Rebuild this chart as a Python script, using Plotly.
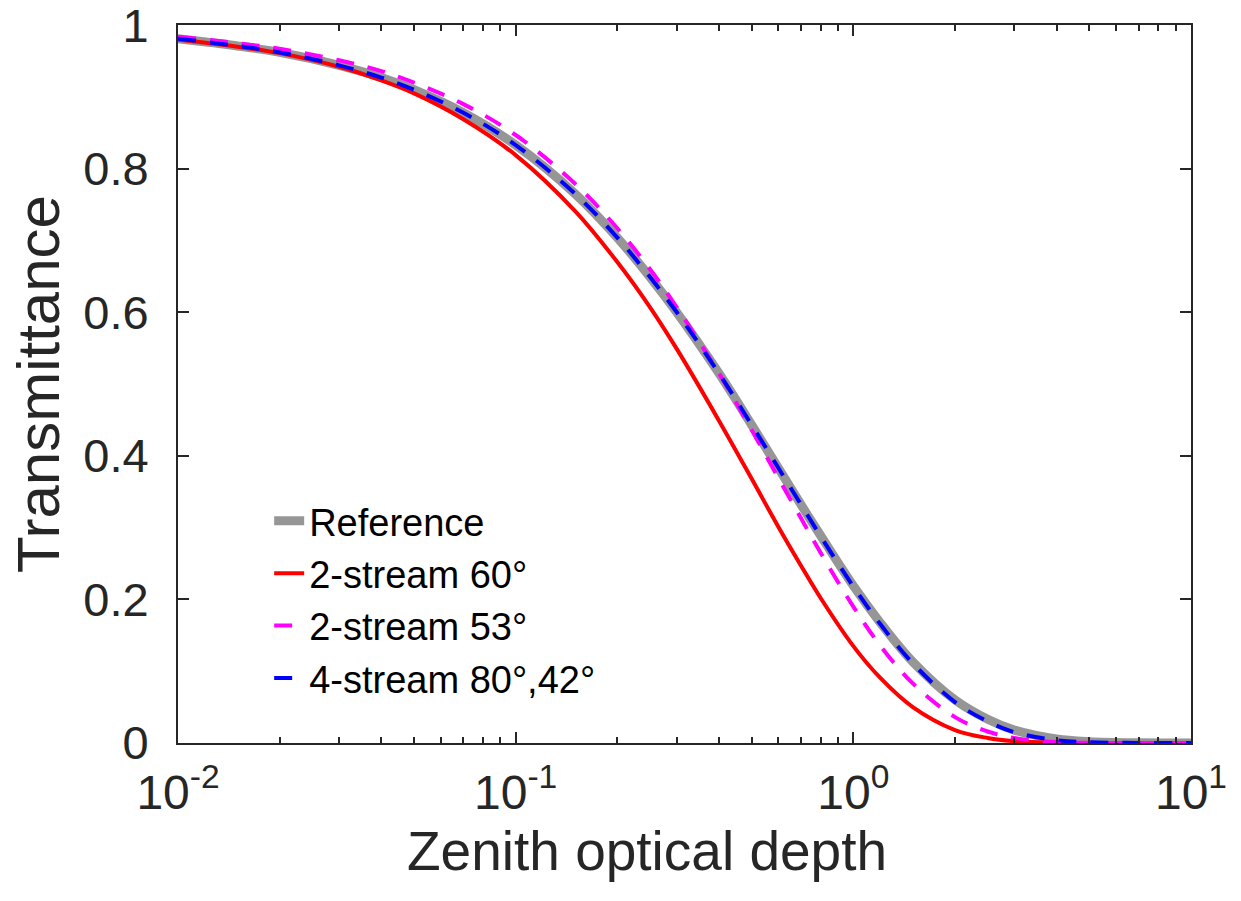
import plotly.graph_objects as go

# Zenith optical depth (x) and transmittance values
tau = [0.01, 0.015, 0.02, 0.03, 0.04, 0.05, 0.07, 0.1, 0.15, 0.2, 0.25, 0.3,
       0.4, 0.5, 0.6, 0.7, 0.8, 1.0, 1.2, 1.5, 2.0, 2.5, 3.0, 4.0, 5.0, 7.0, 10.0]

t_reference = [0.981, 0.971, 0.962, 0.944, 0.927, 0.910, 0.878, 0.833, 0.765, 0.704,
               0.649, 0.600, 0.515, 0.443, 0.383, 0.332, 0.289, 0.219, 0.168, 0.113,
               0.060, 0.033, 0.018, 0.0055, 0.0018, 0.0002, 0.0]

t_2s60 = [0.980, 0.970, 0.961, 0.942, 0.923, 0.905, 0.869, 0.819, 0.741, 0.670,
          0.607, 0.549, 0.449, 0.368, 0.301, 0.247, 0.202, 0.135, 0.091, 0.050,
          0.018, 0.007, 0.0025, 0.0003, 0.0, 0.0, 0.0]

t_2s53 = [0.984, 0.975, 0.967, 0.951, 0.936, 0.920, 0.890, 0.847, 0.779, 0.717,
          0.660, 0.607, 0.515, 0.436, 0.369, 0.313, 0.265, 0.190, 0.136, 0.083,
          0.036, 0.016, 0.007, 0.0013, 0.0003, 0.0, 0.0]

t_4s = [0.981, 0.971, 0.962, 0.944, 0.927, 0.910, 0.878, 0.833, 0.765, 0.704,
        0.649, 0.600, 0.515, 0.443, 0.383, 0.332, 0.288, 0.218, 0.166, 0.111,
        0.057, 0.030, 0.015, 0.004, 0.001, 0.0001, 0.0]

series_names = ["Reference", "2-stream 60°", "2-stream 53°", "4-stream 80°,42°"]

x_tickvals = [0.01, 0.1, 1, 10]
x_ticktext = ["10<sup>-2</sup>", "10<sup>-1</sup>", "10<sup>0</sup>", "10<sup>1</sup>"]
x_minor = [m * 10 ** e for e in (-2, -1, 0) for m in range(2, 10)]
y_tickvals = [0, 0.2, 0.4, 0.6, 0.8, 1]
y_ticktext = ["0", "0.2", "0.4", "0.6", "0.8", "1"]

FONT = "Liberation Sans, Arial, Helvetica, sans-serif"
TXT = "#262626"

fig = go.Figure()
fig.add_trace(go.Scatter(x=tau, y=t_reference, name=series_names[0], mode="lines",
                         line=dict(color="#969696", width=9, shape="spline")))
fig.add_trace(go.Scatter(x=tau, y=t_2s60, name=series_names[1], mode="lines",
                         line=dict(color="#ff0000", width=4, shape="spline")))
fig.add_trace(go.Scatter(x=tau, y=t_2s53, name=series_names[2], mode="lines",
                         line=dict(color="#ff00ff", width=4, dash="18px,14px", shape="spline")))
fig.add_trace(go.Scatter(x=tau, y=t_4s, name=series_names[3], mode="lines",
                         line=dict(color="#0000ff", width=4, dash="18px,14px", shape="spline")))

fig.update_layout(
    width=1241, height=901,
    margin=dict(l=178, r=50, t=25, b=158, autoexpand=False),
    paper_bgcolor="white", plot_bgcolor="white",
    font=dict(family=FONT, color=TXT),
    showlegend=True,
    legend=dict(x=0.09, y=0.353, xanchor="left", yanchor="top",
                bgcolor="rgba(0,0,0,0)", font=dict(size=38, color="black"),
                tracegroupgap=0, itemwidth=30),
    annotations=[dict(text="Zenith optical depth", xref="paper", yref="paper",
                      x=0.463, y=-0.15, xanchor="center", yanchor="middle",
                      showarrow=False, font=dict(size=55, color=TXT))],
)
fig.update_xaxes(
    type="log", range=[-2, 1], automargin=False,
    tickvals=x_tickvals, ticktext=x_ticktext,
    ticks="inside", ticklen=11, tickwidth=2, tickcolor=TXT,
    minor=dict(tickvals=x_minor, ticks="inside", ticklen=6, tickwidth=1.5, tickcolor=TXT),
    showline=True, linecolor=TXT, linewidth=2, mirror="allticks",
    showgrid=False, zeroline=False,
    tickfont=dict(size=48, color=TXT), ticklabelstandoff=6,
)
fig.update_yaxes(
    range=[0, 1.0002], automargin=False,
    tickvals=y_tickvals, ticktext=y_ticktext,
    ticks="inside", ticklen=11, tickwidth=2, tickcolor=TXT,
    showline=True, linecolor=TXT, linewidth=2, mirror="allticks",
    showgrid=False, zeroline=False, ticklabeloverflow="allow",
    tickfont=dict(size=47, color=TXT), ticklabelstandoff=18,
    title=dict(text="Transmittance", font=dict(size=60, color=TXT), standoff=4),
)

fig.write_html("out.html")
